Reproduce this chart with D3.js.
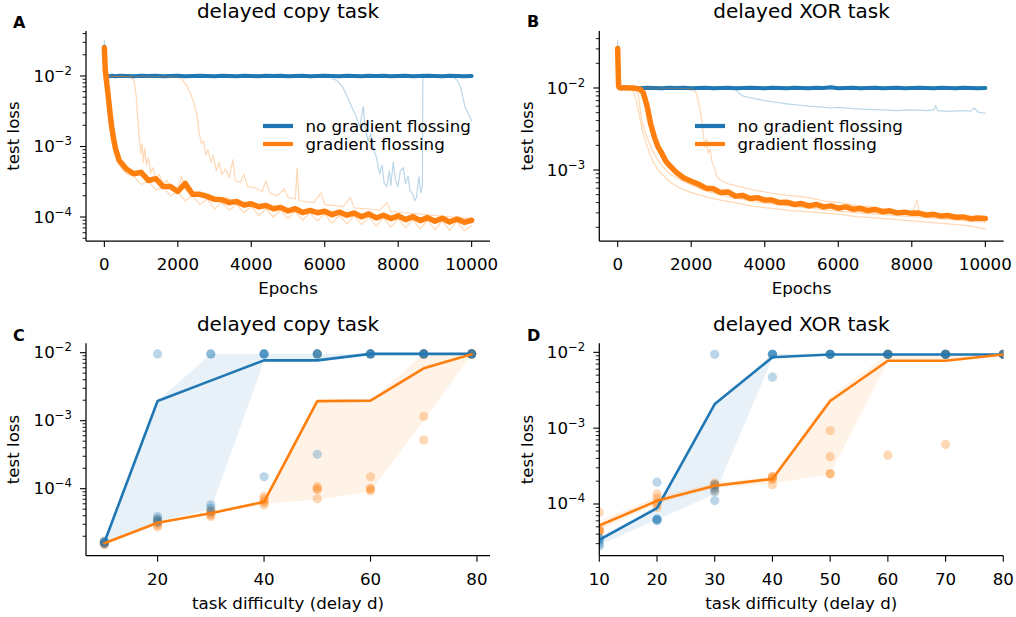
<!DOCTYPE html>
<html><head><meta charset="utf-8">
<script src="https://cdn.jsdelivr.net/npm/d3@7"></script>
<style>body{margin:0;background:#fff;overflow:hidden}</style>
</head><body>
<script>
// ---------------- DATA ----------------
// Panels A/B: training curves (test loss vs epochs)
const epochGrid = [0,25,50,100,150,200,250,300,400,600,
  800,1000,1200,1400,1600,1800,2000,2200,2400,2600,
  2800,3000,3200,3400,3600,3800,4000,4200,4400,4600,
  4800,5000,5200,5400,5600,5800,6000,6200,6400,6600,
  6800,7000,7200,7400,7600,7800,8000,8200,8400,8600,
  8800,9000,9200,9400,9600,9800,10000];
const epochGridB = [0,25,50,100,200,300,400,500,600,700,
  800,900,1000,1100,1200,1300,1400,1600,1800,2000,
  2200,2400,2600,2800,3000,3200,3400,3600,3800,4000,
  4200,4400,4600,4800,5000,5200,5400,5600,5800,6000,
  6200,6400,6600,6800,7000,7200,7400,7600,7800,8000,
  8200,8400,8600,8800,9000,9200,9400,9600,9800,10000];

const copyNoFlossMean = [0.026,0.0104,0.0101,0.0100,0.0099,0.0101,0.0100,0.0099,0.0101,0.0100,
  0.0099,0.0101,0.0100,0.0101,0.0099,0.0100,0.0101,0.0099,0.0100,0.0101,
  0.0100,0.0099,0.0101,0.0100,0.0099,0.0101,0.0100,0.0099,0.0101,0.0100,
  0.0101,0.0099,0.0100,0.0101,0.0099,0.0100,0.0101,0.0100,0.0099,0.0101,
  0.0100,0.0099,0.0101,0.0100,0.0101,0.0099,0.0100,0.0101,0.0099,0.0100,
  0.0101,0.0100,0.0099,0.0101,0.0100,0.0099,0.0100];
const copyFlossMean = [0.025,0.012,0.0092,0.0055,0.0031,0.0019,0.0013,0.00095,0.00064,0.00048,
  0.00041,0.00043,0.00033,0.00035,0.00027,0.00027,0.00023,0.00030,0.00021,0.00021,
  0.000196,0.000178,0.000176,0.000160,0.000166,0.000148,0.000154,0.000140,0.000146,0.000131,
  0.000137,0.000122,0.000131,0.000116,0.000124,0.000115,0.000121,0.000108,0.000118,0.000106,
  0.000114,0.000101,0.000111,0.000097,0.000106,0.000095,0.000104,0.000092,0.000101,0.000089,
  0.000098,0.000087,0.000096,0.000085,0.000094,0.000084,0.00009];
const copyFlossRunA = [0.022,0.0105,0.0085,0.0048,0.0027,0.0016,0.0011,0.0008,0.00055,0.00041,
  0.00038,0.00029,0.00033,0.00024,0.00027,0.00020,0.00023,0.00017,0.0002,0.00015,
  0.00018,0.00013,0.00016,0.000125,0.00015,0.000115,0.00014,0.000105,0.00013,0.0001,
  0.000125,0.000095,0.00012,0.00009,0.000115,0.000088,0.00011,0.000082,0.000105,0.00008,
  0.000105,0.000078,0.0001,0.000075,0.000098,0.000072,0.000095,0.00007,0.000092,0.000068,
  0.00009,0.000066,0.000088,0.000065,0.000086,0.000064,0.000075];
const copyFlossRunB = [[0,0.024],[25,0.0102],[50,0.0099],[300,0.0099],[600,0.0098],[750,0.0096],[820,0.008],[870,0.005],[910,0.0025],[950,0.0013],[990,0.0008],[1030,0.0011],[1060,0.0006],[1100,0.00095],[1140,0.00055],[1200,0.0007],[1260,0.00042],[1320,0.0005],[1400,0.00036],[1500,0.0004],[1600,0.0003],[1700,0.00033],[1800,0.00027],[2000,0.00025],[2100,0.00038],[2200,0.00024],[2400,0.00022],[2600,0.00021],[2800,0.0002],[3000,0.00018],[3300,0.00019],[3600,0.000165],[4000,0.00015],[4500,0.00014],[5000,0.00013],[5500,0.000125],[6000,0.00012],[6500,0.000115],[7000,0.00011],[7500,0.000105],[8000,0.0001],[8500,0.000098],[9000,0.000095],[9500,0.000092],[10000,0.00009]];
const copyFlossRunC = [[0,0.025],[25,0.0102],[50,0.0099],[500,0.0099],[1000,0.0099],[1500,0.0098],[1900,0.0097],[2100,0.0092],[2250,0.0072],[2350,0.0055],[2450,0.004],[2520,0.0028],[2580,0.0016],[2640,0.0011],[2700,0.0012],[2760,0.00075],[2820,0.0009],[2900,0.0006],[2960,0.00075],[3050,0.00045],[3120,0.0006],[3200,0.0004],[3300,0.00048],[3400,0.00036],[3500,0.00065],[3560,0.00033],[3700,0.00031],[3800,0.0004],[3900,0.00027],[4100,0.00026],[4300,0.00023],[4400,0.00033],[4500,0.00022],[4700,0.0002],[4900,0.00025],[5000,0.00019],[5200,0.00018],[5250,0.0005],[5300,0.00017],[5500,0.000165],[5700,0.00016],[5900,0.00022],[6000,0.00015],[6300,0.000145],[6500,0.00014],[6700,0.00019],[6800,0.000135],[7200,0.00013],[7500,0.000125],[7700,0.00016],[7800,0.00012],[8200,0.000115],[8600,0.00011],[9000,0.000105],[9500,0.0001],[10000,0.000095]];
const copyNoFlossRun = [[0,0.032],[25,0.0105],[50,0.0101],[1000,0.0101],[2000,0.01],[3000,0.0101],[4000,0.01],[5000,0.0101],[6000,0.01],[6150,0.0096],[6350,0.0085],[6500,0.0068],[6620,0.005],[6730,0.0037],[6850,0.0027],[6960,0.0019],[7000,0.0026],[7050,0.0037],[7090,0.002],[7180,0.0012],[7250,0.0015],[7330,0.0009],[7410,0.0007],[7460,0.0005],[7500,0.00041],[7560,0.00055],[7620,0.0003],[7690,0.00027],[7760,0.00045],[7800,0.00028],[7866,0.0006],[7920,0.00035],[7990,0.00027],[8060,0.00045],[8140,0.0005],[8200,0.0003],[8270,0.00038],[8320,0.00024],[8400,0.00021],[8450,0.00017],[8500,0.00019],[8560,0.00037],[8620,0.00022],[8660,0.00028],[8670,0.0108],[8700,0.0101],[9000,0.01],[9400,0.0099],[9500,0.0097],[9600,0.0088],[9700,0.007],[9760,0.005],[9820,0.0036],[9900,0.003],[10000,0.0023]];

const xorNoFlossMean = [0.031,0.0105,0.0101,0.0100,0.0101,0.0099,0.0100,0.0101,0.0100,0.0099,
  0.0101,0.0100,0.0099,0.0101,0.0100,0.0101,0.0099,0.0100,0.0101,0.0099,
  0.0100,0.0101,0.0099,0.0100,0.0101,0.0100,0.0099,0.0101,0.0100,0.0099,
  0.0101,0.0100,0.0099,0.0101,0.0100,0.0102,0.0099,0.0100,0.0101,0.0099,
  0.0100,0.0101,0.0099,0.0100,0.0101,0.0099,0.0100,0.0101,0.0100,0.0099,
  0.0101,0.0100,0.0099,0.0101,0.0100,0.0099,0.0100];
const xorFlossMean = [0.03,0.0105,0.0101,0.0100,0.0101,0.0100,0.0100,0.0099,0.0097,0.0087,
  0.006,0.0036,0.0025,0.0019,0.0016,0.0013,0.00115,0.00093,0.0008,0.00073,
  0.00067,0.00060,0.00059,0.00053,0.00054,0.00048,0.00049,0.00045,0.00046,0.00043,
  0.00043,0.00040,0.000405,0.00038,0.00039,0.000365,0.00038,0.000355,0.000365,0.000342,
  0.000355,0.000333,0.00034,0.00032,0.00033,0.00031,0.000318,0.0003,0.000306,0.000296,
  0.000298,0.000282,0.000288,0.000274,0.000278,0.000265,0.000268,0.000255,0.00026,0.000256];
const xorNoFlossRun = [[0,0.038],[25,0.0105],[50,0.0101],[1000,0.0101],[2000,0.01],[3000,0.0101],[3200,0.0098],[3300,0.0086],[3400,0.008],[3600,0.0076],[3800,0.0073],[4000,0.007],[4300,0.0067],[4600,0.0064],[4900,0.0062],[5200,0.006],[5500,0.0059],[5800,0.0057],[6000,0.0058],[6400,0.0056],[6800,0.0055],[7200,0.0054],[7600,0.0053],[8000,0.0054],[8400,0.0053],[8600,0.0054],[8650,0.0061],[8700,0.0053],[9000,0.0052],[9400,0.0053],[9600,0.0052],[9700,0.0057],[9800,0.0051],[10000,0.0049]];
const xorFlossRunA = [[0,0.033],[25,0.0105],[50,0.0101],[300,0.01],[380,0.0098],[450,0.0085],[520,0.0065],[580,0.0048],[650,0.0033],[700,0.0027],[780,0.0021],[850,0.0017],[950,0.0013],[1100,0.001],[1250,0.00085],[1450,0.0007],[1700,0.0006],[2000,0.00053],[2400,0.00047],[2800,0.00043],[3200,0.0004],[3700,0.00036],[4200,0.00034],[4700,0.00032],[5100,0.00031],[5600,0.0003],[6000,0.00029],[6500,0.00027],[7000,0.00026],[7500,0.00025],[8000,0.00024],[8500,0.00023],[9000,0.00022],[9500,0.00021],[9800,0.0002],[10000,0.00019]];
const xorFlossRunB = [[0,0.03],[25,0.0105],[50,0.0101],[400,0.01],[480,0.0097],[560,0.0083],[650,0.0041],[720,0.0031],[833,0.0023],[950,0.0017],[1105,0.0013],[1300,0.001],[1468,0.00087],[1800,0.00072],[2375,0.00056],[3000,0.00047],[3735,0.00041],[4500,0.00037],[5500,0.00033],[6500,0.0003],[7500,0.00028],[8500,0.00026],[9500,0.00024],[10000,0.00023]];
const xorFlossRunC = [[0,0.03],[25,0.0105],[50,0.0101],[1000,0.01],[1800,0.0099],[2050,0.0097],[2150,0.0085],[2240,0.0054],[2300,0.0035],[2340,0.0025],[2375,0.0019],[2420,0.0024],[2460,0.0016],[2520,0.0018],[2557,0.0013],[2620,0.0011],[2693,0.00083],[2800,0.00075],[3000,0.00068],[3281,0.00063],[3700,0.00057],[4190,0.00052],[4600,0.00049],[5095,0.00047],[5600,0.00042],[6000,0.0004],[6500,0.00037],[7000,0.00035],[7500,0.00032],[8000,0.0003],[8150,0.00043],[8200,0.0003],[8500,0.00029],[9000,0.00028],[9500,0.00027],[10000,0.00026]];

// Panels C/D: final test loss vs task difficulty
const delaysCopy = [10,20,30,40,50,60,70,79];
const copyNoFlossRuns = [
  [1.7e-5,1.6e-5,1.55e-5,1.65e-5,1.6e-5],
  [9.6e-3,3.9e-5,3.6e-5,3.4e-5,3.2e-5],
  [9.6e-3,9.6e-3,5.8e-5,5.2e-5,4.6e-5],
  [1.5e-4,9.6e-3,9.6e-3,9.6e-3,9.6e-3],
  [3.2e-4,9.6e-3,9.6e-3,9.6e-3,9.6e-3],
  [9.6e-3,9.6e-3,9.6e-3,9.6e-3,9.6e-3],
  [9.6e-3,9.6e-3,9.6e-3,9.6e-3,9.6e-3],
  [9.6e-3,9.6e-3,9.6e-3,9.6e-3,9.6e-3]];
const copyNoFlossLine = [1.62e-5,1.95e-3,3.88e-3,7.7e-3,7.7e-3,9.6e-3,9.6e-3,9.6e-3];
const copyNoFlossLo = [1.55e-5,3.3e-5,5.0e-5,7.5e-3,7.4e-3,9.6e-3,9.6e-3,9.6e-3];
const copyNoFlossHi = [1.7e-5,1.95e-3,9.6e-3,9.6e-3,9.6e-3,9.6e-3,9.6e-3,9.6e-3];
const copyFlossRuns = [
  [1.5e-5,1.55e-5,1.6e-5,1.6e-5,1.65e-5],
  [2.75e-5,2.9e-5,3.1e-5,3.3e-5,3.5e-5],
  [3.9e-5,4.1e-5,4.3e-5,4.6e-5,4.8e-5],
  [5.8e-5,6.2e-5,6.6e-5,7.1e-5,7.7e-5],
  [7.1e-5,9.7e-5,1.0e-4,1.07e-4,9.6e-3],
  [9.3e-5,9.8e-5,1.02e-4,1.5e-4,9.6e-3],
  [5.2e-4,1.15e-3,9.6e-3,9.6e-3,9.6e-3],
  [9.6e-3,9.6e-3,9.6e-3,9.6e-3,9.6e-3]];
const copyFlossLine = [1.58e-5,3.16e-5,4.37e-5,6.4e-5,1.94e-3,1.97e-3,5.9e-3,9.5e-3];
const copyFlossLo = [1.5e-5,3.0e-5,4.2e-5,6.0e-5,6.9e-5,9.1e-5,1.0e-3,9.5e-3];
const copyFlossHi = [1.62e-5,3.25e-5,4.5e-5,6.5e-5,1.94e-3,1.97e-3,9.6e-3,9.6e-3];

const delaysXor = [10,20,30,40,50,60,70,80];
const xorNoFlossRuns = [
  [2.8e-5,3.0e-5,3.3e-5,3.5e-5,3.6e-5],
  [1.94e-4,6.3e-5,6.2e-5,6.0e-5,6.3e-5],
  [9.4e-3,1.8e-4,1.6e-4,1.45e-4,1.11e-4],
  [4.7e-3,9.4e-3,9.4e-3,9.4e-3,9.4e-3],
  [9.4e-3,9.4e-3,9.4e-3,9.4e-3,9.4e-3],
  [9.4e-3,9.4e-3,9.4e-3,9.4e-3,9.4e-3],
  [9.4e-3,9.4e-3,9.4e-3,9.4e-3,9.4e-3],
  [9.4e-3,9.4e-3,9.4e-3,9.4e-3,9.4e-3]];
const xorNoFlossLine = [3.37e-5,8.8e-5,2.08e-3,8.6e-3,9.35e-3,9.35e-3,9.35e-3,9.35e-3];
const xorNoFlossLo = [2.9e-5,6.2e-5,1.35e-4,8.4e-3,9.3e-3,9.3e-3,9.3e-3,9.3e-3];
const xorNoFlossHi = [3.6e-5,9.5e-5,2.08e-3,9.5e-3,9.4e-3,9.4e-3,9.4e-3,9.4e-3];
const xorFlossRuns = [
  [7.8e-5,4.6e-5,4.3e-5,4.5e-5,4.4e-5],
  [1.35e-4,1.2e-4,1.05e-4,9.0e-5,1.0e-4],
  [1.9e-4,1.75e-4,1.5e-4,1.7e-4,1.8e-4],
  [2.3e-4,2.1e-4,1.8e-4,2.2e-4,2.3e-4],
  [9.3e-4,4.2e-4,2.5e-4,2.5e-4,9.4e-3],
  [4.4e-4,9.4e-3,9.4e-3,9.4e-3,9.4e-3],
  [6.1e-4,9.4e-3,9.4e-3,9.4e-3,9.4e-3],
  [9.4e-3,9.4e-3,9.4e-3,9.4e-3,9.4e-3]];
const xorFlossLine = [5.2e-5,1.1e-4,1.74e-4,2.14e-4,2.28e-3,7.75e-3,7.75e-3,9.35e-3];
const xorFlossLo = [4.5e-5,1.0e-4,1.62e-4,1.85e-4,2.5e-4,7.6e-3,7.6e-3,9.3e-3];
const xorFlossHi = [6.0e-5,1.25e-4,1.9e-4,2.25e-4,2.6e-3,9.4e-3,9.4e-3,9.4e-3];

// Text
const titles = ["delayed copy task","delayed XOR task","delayed copy task","delayed XOR task"];
const panelLetters = ["A","B","C","D"];
const legendLabels = ["no gradient flossing","gradient flossing"];
const xTicksEpochs = [0,2000,4000,6000,8000,10000];
const xTicksCopy = [20,40,60,80];
const xTicksXor = [10,20,30,40,50,60,70,80];
const yMajorAll = [1e-5,1e-4,1e-3,1e-2,1e-1];

// ---------------- DRAWING ----------------
const BLUE = "#1f77b4", ORANGE = "#ff7f0e";
const FONT = "DejaVu Sans", FS = 16.67;
const svg = d3.select("body").append("svg").attr("width",1016).attr("height",617)
  .attr("font-family",FONT);

function makePanel(id, c){
  const x = d3.scaleLinear().domain(c.xDom).range([c.x0,c.x1]);
  const y = d3.scaleLog().domain(c.yDom).range([c.y1,c.y0]);
  svg.append("clipPath").attr("id","clip"+id).append("rect")
    .attr("x",c.x0).attr("y",c.y0).attr("width",c.x1-c.x0).attr("height",c.y1-c.y0);
  const g = svg.append("g");
  const plot = g.append("g").attr("clip-path",`url(#clip${id})`);
  return {x,y,g,plot,c};
}

function drawAxes(p, xTicks, xLabel, title, letter){
  const c = p.c;
  const [lo,hi] = p.y.domain();
  const minor = p.y.ticks().filter(v => Math.abs(Math.log10(v)-Math.round(Math.log10(v)))>1e-6 && v>=lo && v<=hi);
  const ym = p.g.append("g").attr("transform",`translate(${c.x0},0)`)
    .call(d3.axisLeft(p.y).tickValues(minor).tickSize(3.5).tickSizeOuter(0).tickFormat(()=>"").offset(0));
  ym.select(".domain").remove();
  ym.selectAll("line").attr("stroke-width",0.9);
  const major = yMajorAll.filter(v=>v>=lo && v<=hi);
  const ya = p.g.append("g").attr("transform",`translate(${c.x0},0)`)
    .call(d3.axisLeft(p.y).tickValues(major).tickSize(6).tickSizeOuter(0).tickPadding(8).offset(0).tickFormat(()=>""));
  ya.attr("font-family",FONT).attr("font-size",FS);
  ya.selectAll(".tick text").each(function(d){
    const t = d3.select(this);
    t.attr("dy","0.33em");
    t.append("tspan").text("10");
    t.append("tspan").attr("dy",-7).attr("font-size",11.7).text("\u2212"+Math.round(-Math.log10(d)));
  });
  ya.select(".domain").attr("stroke-width",1.25);
  ya.selectAll(".tick line").attr("stroke-width",1.1);
  const xa = p.g.append("g").attr("transform",`translate(0,${c.y1})`)
    .call(d3.axisBottom(p.x).tickValues(xTicks).tickSize(6).tickSizeOuter(0).tickPadding(11).offset(0).tickFormat(d3.format("d")));
  xa.attr("font-family",FONT).attr("font-size",FS);
  xa.select(".domain").attr("stroke-width",1.25);
  xa.selectAll(".tick line").attr("stroke-width",1.1);
  const cx = (c.x0+c.x1)/2;
  p.g.append("text").attr("x",cx).attr("y",c.y1+53).attr("text-anchor","middle")
    .attr("font-size",FS).text(xLabel);
  p.g.append("text").attr("transform",`translate(${c.ylabX},${(c.y0+c.y1)/2}) rotate(-90)`)
    .attr("text-anchor","middle").attr("font-size",FS).text("test loss");
  p.g.append("text").attr("x",cx).attr("y",c.titleY).attr("text-anchor","middle")
    .attr("font-size",20).text(title);
  p.g.append("text").attr("x",c.letX).attr("y",c.letY).attr("font-weight","bold")
    .attr("font-size",16).text(letter);
}

function lineXY(p, xs, ys, color, w, op){
  p.plot.append("path").datum(d3.zip(xs,ys))
    .attr("d", d3.line().x(d=>p.x(d[0])).y(d=>p.y(d[1])))
    .attr("fill","none").attr("stroke",color).attr("stroke-width",w)
    .attr("stroke-opacity",op).attr("stroke-linejoin","round").attr("stroke-linecap","round");
}
function linePairs(p, pairs, color, w, op){
  lineXY(p, pairs.map(d=>d[0]), pairs.map(d=>d[1]), color, w, op);
}
function legend(p, lx, ly){
  [[BLUE,legendLabels[0]],[ORANGE,legendLabels[1]]].forEach((d,i)=>{
    const yy = ly + i*18;
    p.g.append("line").attr("x1",lx).attr("x2",lx+30).attr("y1",yy).attr("y2",yy)
      .attr("stroke",d[0]).attr("stroke-width",4.2);
    p.g.append("text").attr("x",lx+42.5).attr("y",yy+5.8).attr("font-size",FS).text(d[1]);
  });
}

// Panel A
const pA = makePanel("A",{x0:86,x1:490,y0:31,y1:241,xDom:[-500,10500],yDom:[Math.pow(10,-4.340),Math.pow(10,-1.362)],
  ylabX:19,titleY:18,letX:13,letY:27.5});
linePairs(pA, copyNoFlossRun, BLUE, 1.2, 0.3);
lineXY(pA, epochGrid, copyNoFlossMean, BLUE, 4, 1);
lineXY(pA, epochGrid, copyFlossRunA, ORANGE, 1.2, 0.3);
linePairs(pA, copyFlossRunB, ORANGE, 1.2, 0.3);
linePairs(pA, copyFlossRunC, ORANGE, 1.2, 0.3);
lineXY(pA, epochGrid, copyFlossMean, ORANGE, 5.5, 1);
drawAxes(pA, xTicksEpochs, "Epochs", titles[0], panelLetters[0]);
legend(pA, 263, 126);

// Panel B
const pB = makePanel("B",{x0:599.3,x1:1003.7,y0:31,y1:241,xDom:[-500,10500],yDom:[Math.pow(10,-3.866),Math.pow(10,-1.305)],
  ylabX:533,titleY:18,letX:527,letY:27});
linePairs(pB, xorNoFlossRun, BLUE, 1.2, 0.3);
lineXY(pB, epochGrid, xorNoFlossMean, BLUE, 4, 1);
linePairs(pB, xorFlossRunA, ORANGE, 1.2, 0.3);
linePairs(pB, xorFlossRunB, ORANGE, 1.2, 0.3);
linePairs(pB, xorFlossRunC, ORANGE, 1.2, 0.3);
lineXY(pB, epochGridB, xorFlossMean, ORANGE, 5.5, 1);
drawAxes(pB, xTicksEpochs, "Epochs", titles[1], panelLetters[1]);
legend(pB, 695, 126);

// Panels C/D
function sweep(p, delays, groups){
  groups.forEach(gr=>{
    p.plot.append("path").datum(delays.map((d,i)=>[d,gr.lo[i],gr.hi[i]]))
      .attr("d", d3.area().x(d=>p.x(d[0])).y0(d=>p.y(d[1])).y1(d=>p.y(d[2])))
      .attr("fill",gr.color).attr("fill-opacity",0.1);
  });
  [groups[1],groups[0]].forEach(gr=>{
    const pts = [];
    delays.forEach((d,i)=>gr.runs[i].forEach(v=>pts.push([d,v])));
    p.plot.append("g").selectAll("circle").data(pts).join("circle")
      .attr("cx",d=>p.x(d[0])).attr("cy",d=>p.y(d[1])).attr("r",4.6)
      .attr("fill",gr.color).attr("fill-opacity",0.3);
  });
  groups.forEach(gr=>lineXY(p, delays, gr.line, gr.color, 2.6, 1));
}

const pC = makePanel("C",{x0:86,x1:490,y0:343.3,y1:555.7,xDom:[6.55,82.45],yDom:[Math.pow(10,-4.985),Math.pow(10,-1.862)],
  ylabX:19,titleY:331,letX:13,letY:340.5});
sweep(pC, delaysCopy, [
  {color:BLUE, runs:copyNoFlossRuns, line:copyNoFlossLine, lo:copyNoFlossLo, hi:copyNoFlossHi},
  {color:ORANGE, runs:copyFlossRuns, line:copyFlossLine, lo:copyFlossLo, hi:copyFlossHi}]);
drawAxes(pC, xTicksCopy, "task difficulty (delay d)", titles[2], panelLetters[2]);

const pD = makePanel("D",{x0:599.3,x1:1003.3,y0:343.3,y1:555.7,xDom:[10,80],yDom:[Math.pow(10,-4.682),Math.pow(10,-1.881)],
  ylabX:533,titleY:331,letX:527,letY:340.5});
sweep(pD, delaysXor, [
  {color:BLUE, runs:xorNoFlossRuns, line:xorNoFlossLine, lo:xorNoFlossLo, hi:xorNoFlossHi},
  {color:ORANGE, runs:xorFlossRuns, line:xorFlossLine, lo:xorFlossLo, hi:xorFlossHi}]);
drawAxes(pD, xTicksXor, "task difficulty (delay d)", titles[3], panelLetters[3]);
</script>
</body></html>
